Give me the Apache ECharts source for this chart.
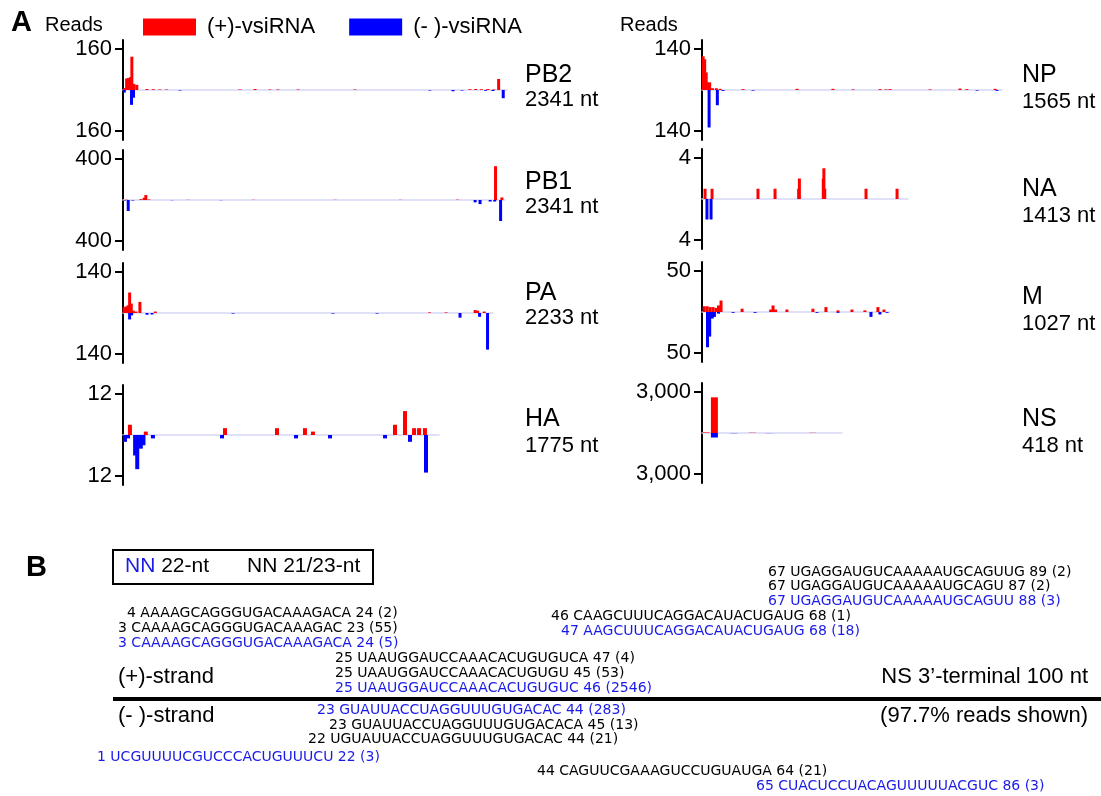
<!DOCTYPE html>
<html><head><meta charset="utf-8">
<script src="https://cdn.jsdelivr.net/npm/echarts@6/dist/echarts.min.js"></script>
<style>html,body{margin:0;padding:0;background:#fff}#c{width:1101px;height:796px}</style>
</head><body><div id="c"></div><script>
// ---------------- DATA ----------------
const segments = ['PB2','PB1','PA','HA','NP','NA','M','NS'];
const segLength = [2341,2341,2233,1775,1565,1413,1027,418];
const yTickValue = [160,400,140,12,140,4,50,3000];
// [nt position, reads]
const plusPB2 = [[10,8],[22,45],[34,47],[46,50],[54,130],[66,24],[84,20],[146,4],[185,3],[225,2],[265,2],[713,2],[805,4],[896,2],[945,2],[1067,2],[1414,2],[2115,3],[2150,4],[2185,3],[2225,4],[2262,2],[2290,43]];
const minusPB2 = [[8,10],[52,58],[64,30],[347,2],[1871,2],[2012,5],[2067,2],[2210,3],[2255,4],[2318,32]];
const plusPB1 = [[20,3],[110,8],[130,22],[140,48],[160,5],[400,2],[800,2],[1300,2],[1700,2],[2050,3],[2283,330],[2322,25]];
const minusPB1 = [[10,5],[32,107],[60,5],[300,2],[600,2],[2158,23],[2188,40],[2250,15],[2278,15],[2314,205]];
const plusPA = [[6,20],[18,22],[30,26],[40,70],[50,32],[62,8],[78,5],[102,38],[195,5],[1850,2],[1950,2],[2125,10],[2140,8],[2180,5]];
const minusPA = [[40,22],[52,8],[145,6],[175,5],[664,2],[1267,2],[1533,2],[2034,16],[2152,13],[2200,125]];
const plusHA = [[39,3],[128,1],[573,2],[865,2],[1022,2],[1067,1],[1528,3],[1584,7],[1635,2],[1663,2],[1696,2]];
const minusHA = [[11,2],[28,1],[68,6],[80,10],[100,4],[115,3],[168,1],[556,1],[972,1],[1163,1],[1472,1],[1612,2],[1702,11]];
const plusNP = [[6,115],[14,105],[22,60],[30,26],[40,26],[55,6],[75,6],[95,4],[214,3],[496,4],[683,4],[788,2],[929,3],[960,2],[981,3],[1189,2],[1346,5],[1382,3],[1529,4]];
const minusNP = [[37,128],[80,52],[110,3],[266,2],[1435,2],[1539,3]];
const plusNA = [[21,1],[69,1],[384,1],[501,1],[663,1],[668,2],[832,2],[836,3],[842,1],[1125,1],[1338,1]];
const minusNA = [[34,2],[62,2]];
const plusM = [[12,7],[28,7],[44,6],[60,6],[76,5],[90,8],[104,14],[219,4],[375,3],[388,8],[402,3],[464,3],[606,4],[677,6],[743,2],[819,3],[890,2],[961,6],[994,3]];
const minusM = [[30,43],[42,30],[56,8],[68,6],[90,2],[170,1],[290,1],[628,1],[743,1],[923,6],[972,3],[1011,1]];
const plusNS = [[12,40],[37,2610],[150,20],[330,15]];
const minusNS = [[37,330],[95,15],[200,10]];
const plusReads = [plusPB2,plusPB1,plusPA,plusHA,plusNP,plusNA,plusM,plusNS];
const minusReads = [minusPB2,minusPB1,minusPA,minusHA,minusNP,minusNA,minusM,minusNS];
const seriesNames = ['(+)-vsiRNA','(- )-vsiRNA'];

// Panel B: NS 3'-terminal 100 nt reads
const seqTexts = [
 '4 AAAAGCAGGGUGACAAAGACA 24 (2)',
 '3 CAAAAGCAGGGUGACAAAGAC 23 (55)',
 '3 CAAAAGCAGGGUGACAAAGACA 24 (5)',
 '67 UGAGGAUGUCAAAAAUGCAGUUG 89 (2)',
 '67 UGAGGAUGUCAAAAAUGCAGU 87 (2)',
 '67 UGAGGAUGUCAAAAAUGCAGUU 88 (3)',
 '46 CAAGCUUUCAGGACAUACUGAUG 68 (1)',
 '47 AAGCUUUCAGGACAUACUGAUG 68 (18)',
 '25 UAAUGGAUCCAAACACUGUGUCA 47 (4)',
 '25 UAAUGGAUCCAAACACUGUGU 45 (53)',
 '25 UAAUGGAUCCAAACACUGUGUC 46 (2546)',
 '23 GUAUUACCUAGGUUUGUGACAC 44 (283)',
 '23 GUAUUACCUAGGUUUGUGACACA 45 (13)',
 '22 UGUAUUACCUAGGUUUGUGACAC 44 (21)',
 '1 UCGUUUUCGUCCCACUGUUUCU 22 (3)',
 '44 CAGUUCGAAAGUCCUGUAUGA 64 (21)',
 '65 CUACUCCUACAGUUUUUACGUC 86 (3)'
];
const seqIs22nt = [false,false,true,false,false,true,false,true,false,false,true,true,false,false,true,false,true];

// ---------------- LAYOUT ----------------
const gridLayout = [
 {left:123, zero:90,  width:384, bw:3, lx:525, ny:76,  ty:100},
 {left:123, zero:200, width:382, bw:3, lx:525, ny:183, ty:207},
 {left:123, zero:313, width:370, bw:3, lx:525, ny:294, ty:318},
 {left:123, zero:435, width:316, bw:4, lx:525, ny:420, ty:446},
 {left:702, zero:90,  width:300, bw:3, lx:1022, ny:76,  ty:102},
 {left:702, zero:199, width:206, bw:3, lx:1022, ny:190, ty:216},
 {left:702, zero:312, width:188, bw:3, lx:1022, ny:298, ty:324},
 {left:702, zero:433, width:140, bw:7, lx:1022, ny:420, ty:446}
];
const seqPos = [[127,614],[118,629],[118,644],[768,573],[768,587],[768,602],[551,617],[561,632],
 [335,659],[335,674],[335,689],[317,711],[329,726],[308,740],[97,758],[537,772],[756,787]];

const RED = '#ff0000', BLUE = '#0000ff', TXTBLUE = '#1a1ae6';
const SANS = 'Liberation Sans, Arial, sans-serif';
const SEQF = 'DejaVu Sans, Verdana, sans-serif';

const grids = [], xAxes = [], yAxes = [], series = [];
const graphics = [];
segments.forEach((name, i) => {
  const L = gridLayout[i];
  const t = yTickValue[i];
  const m = t * 50 / 41;
  grids.push({left: L.left, top: L.zero - 50, width: L.width, height: 100, containLabel: false});
  xAxes.push({gridIndex: i, type: 'value', min: 0, max: segLength[i],
    axisLine: {onZero: true, lineStyle: {color: '#d6d6f6', width: 1.5}},
    axisTick: {show: false}, axisLabel: {show: false}, splitLine: {show: false}});
  yAxes.push({gridIndex: i, type: 'value', min: -m, max: m,
    axisLine: {show: true, onZero: false, lineStyle: {color: '#000', width: 2}},
    axisTick: {show: true, length: 8, lineStyle: {color: '#000', width: 2}, customValues: [-t, t]},
    axisLabel: {show: true, customValues: [-t, t], formatter: v => Math.abs(v).toLocaleString('en-US'),
      fontSize: 22, color: '#000', margin: 11, fontFamily: SANS},
    splitLine: {show: false}});
  series.push({type: 'bar', name: seriesNames[0], xAxisIndex: i, yAxisIndex: i,
    data: plusReads[i], barWidth: L.bw, barGap: '-100%', itemStyle: {color: RED}, silent: true});
  series.push({type: 'bar', name: seriesNames[1], xAxisIndex: i, yAxisIndex: i,
    data: minusReads[i].map(d => [d[0], -d[1]]), barWidth: L.bw, barGap: '-100%', itemStyle: {color: BLUE}, silent: true});
  graphics.push({type: 'text', left: L.lx, top: L.ny - 13, style: {text: name, font: '25px ' + SANS, fill: '#000'}});
  graphics.push({type: 'text', left: L.lx, top: L.ty - 11, style: {text: segLength[i] + ' nt', font: '22px ' + SANS, fill: '#000'}});
});

// panel labels
graphics.push({type: 'text', left: 11, top: 8, style: {text: 'A', font: 'bold 29px ' + SANS, fill: '#000'}});
graphics.push({type: 'text', left: 45, top: 15, style: {text: 'Reads', font: '20px ' + SANS, fill: '#000'}});
graphics.push({type: 'text', left: 620, top: 15, style: {text: 'Reads', font: '20px ' + SANS, fill: '#000'}});
graphics.push({type: 'text', left: 26, top: 553, style: {text: 'B', font: 'bold 29px ' + SANS, fill: '#000'}});
// key box
graphics.push({type: 'rect', shape: {x: 113, y: 550, width: 260, height: 34}, style: {fill: 'none', stroke: '#000', lineWidth: 2}});
graphics.push({type: 'text', left: 125, top: 556, style: {text: '{b|NN} 22-nt', font: '21px ' + SANS, fill: '#000',
  rich: {b: {fill: TXTBLUE, font: '21px ' + SANS}}}});
graphics.push({type: 'text', left: 247, top: 556, style: {text: 'NN 21/23-nt', font: '21px ' + SANS, fill: '#000'}});
// strand line
graphics.push({type: 'line', shape: {x1: 113, y1: 699, x2: 1101, y2: 699}, style: {stroke: '#000', lineWidth: 4}});
graphics.push({type: 'text', left: 118, top: 666, style: {text: '(+)-strand', font: '22px ' + SANS, fill: '#000'}});
graphics.push({type: 'text', left: 118, top: 705, style: {text: '(- )-strand', font: '22px ' + SANS, fill: '#000'}});
graphics.push({type: 'text', right: 13, top: 666, style: {text: "NS 3\u2019-terminal 100 nt", font: '22px ' + SANS, fill: '#000'}});
graphics.push({type: 'text', right: 13, top: 705, style: {text: '(97.7% reads shown)', font: '22px ' + SANS, fill: '#000'}});
seqTexts.forEach((s, k) => {
  graphics.push({type: 'text', left: seqPos[k][0], top: seqPos[k][1] - 8,
    style: {text: s, font: '14px ' + SEQF, fill: seqIs22nt[k] ? TXTBLUE : '#000'}});
});

const chart = echarts.init(document.getElementById('c'), null, {renderer: 'canvas'});
chart.setOption({
  animation: false,
  backgroundColor: '#fff',
  legend: {data: seriesNames, left: 138, top: 11, itemWidth: 53, itemHeight: 17, itemGap: 34, icon: 'rect',
    selectedMode: false, textStyle: {fontSize: 22, color: '#000', fontFamily: SANS, padding: [0, 0, 0, 6]}},
  grid: grids, xAxis: xAxes, yAxis: yAxes, series: series, graphic: graphics
});
</script></body></html>
